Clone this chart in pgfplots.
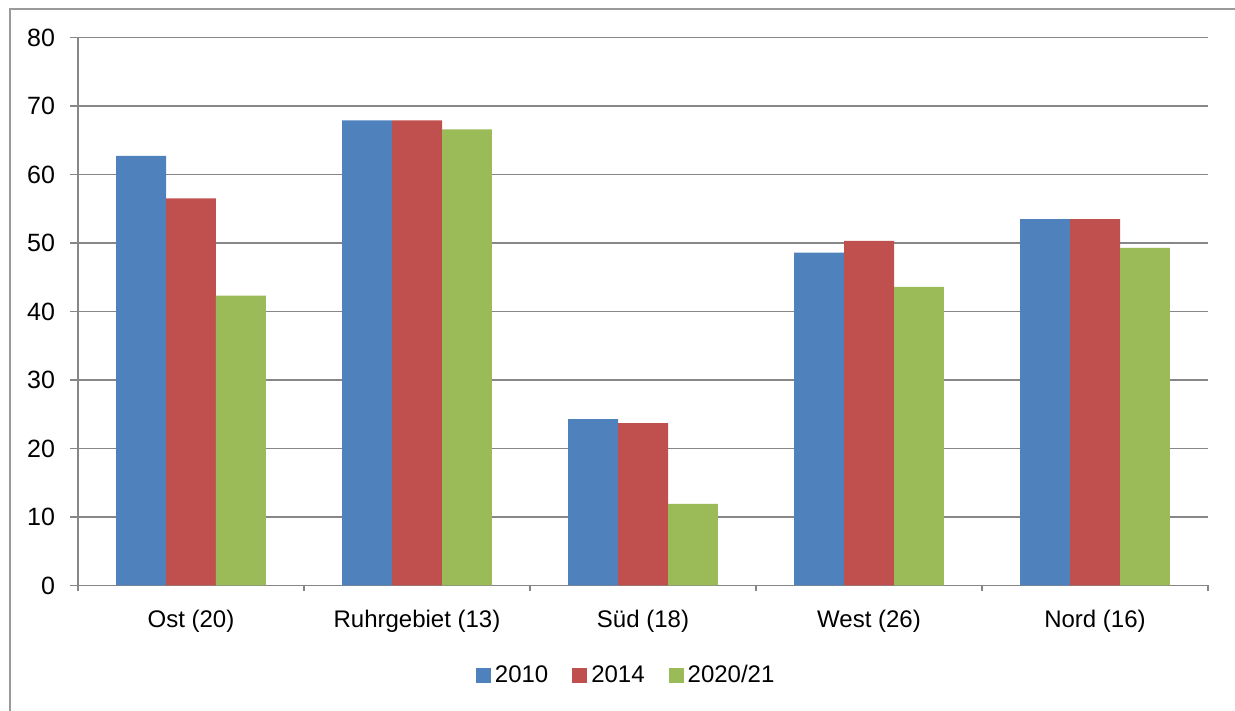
\documentclass[border=0pt]{standalone}
\usepackage{fontspec}
\setmainfont{Liberation Sans}
\usepackage{pgfplots}
\pgfplotsset{compat=1.18}
\definecolor{cA}{HTML}{4F81BD}
\definecolor{cB}{HTML}{C0504D}
\definecolor{cC}{HTML}{9BBB59}
\definecolor{gridc}{HTML}{878787}
\definecolor{framec}{HTML}{9A9A9A}
\begin{document}
\begin{tikzpicture}
\useasboundingbox (0pt,0pt) rectangle (617.5pt,355.5pt);
\draw[framec, line width=0.8pt] (5pt,-2pt) -- (5pt,351pt) -- (620pt,351pt);
\begin{axis}[
  at={(39pt,62.75pt)}, anchor=south west,
  scale only axis, width=565pt, height=274pt,
  ybar=0pt, bar width=0.2212,
  ymin=0, ymax=80, ytick={0,10,...,80},
  xmin=-0.5, xmax=4.5, xtick={0,...,4},
  xticklabels={Ost (20), Ruhrgebiet (13), Süd (18), West (26), Nord (16)},
  minor xtick={-0.5,0.5,...,4.5},
  major x tick style={draw=none},
  axis x line*=bottom, axis y line*=left,
  axis line style={gridc, line width=0.75pt, -},
  ymajorgrids, grid style={gridc, line width=0.75pt},
  tick style={gridc, line width=0.75pt},
  tick align=outside, major tick length=4pt, minor tick length=3pt,
  ytick pos=left, xtick pos=bottom,
  /pgf/number format/assume math mode=true,
  tick label style={font=\fontsize{12}{14}\selectfont, black},
  yticklabel style={xshift=-4pt, font=\fontsize{12.5}{14}\selectfont},
  xticklabel style={yshift=-5pt},
  legend style={at={(0.486,-0.164)}, anchor=center, legend columns=3, draw=none,
    font=\fontsize{12}{14}\selectfont, /tikz/every even column/.append style={column sep=10pt}},
  legend image code/.code={\fill[#1] (0pt,-3.75pt) rectangle (7.5pt,3.75pt);},
]
\addplot[fill=cA, draw=none] coordinates {(0,62.7) (1,67.9) (2,24.3) (3,48.6) (4,53.5)};
\addplot[fill=cB, draw=none] coordinates {(0,56.5) (1,67.9) (2,23.7) (3,50.3) (4,53.5)};
\addplot[fill=cC, draw=none] coordinates {(0,42.3) (1,66.6) (2,11.9) (3,43.6) (4,49.3)};
\legend{2010, 2014, 2020/21}
\end{axis}
\end{tikzpicture}
\end{document}
